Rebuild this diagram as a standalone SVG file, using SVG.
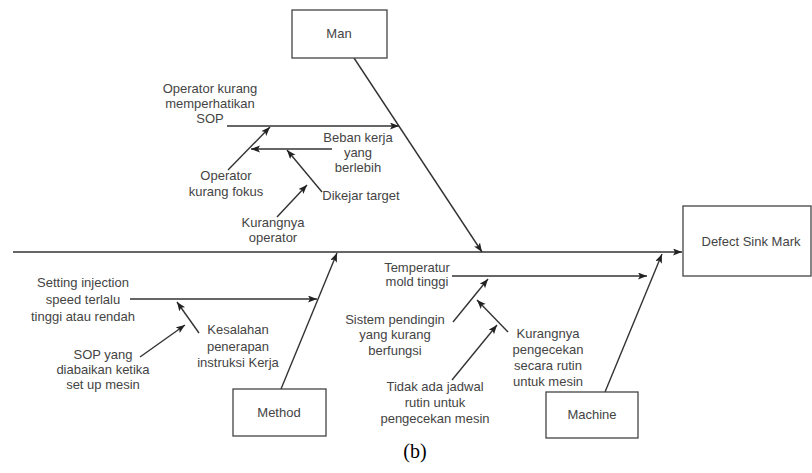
<svg xmlns="http://www.w3.org/2000/svg" width="812" height="473" viewBox="0 0 812 473">
<defs>
<marker id="arr" markerUnits="userSpaceOnUse" markerWidth="10" markerHeight="8" refX="9" refY="3.5" orient="auto">
<path d="M0,0 L9,3.5 L0,7 L2,3.5 z" fill="#222"/>
</marker>
<style>
.box{fill:#fff;stroke:#444;stroke-width:1.3}
.ln{fill:none;stroke:#333;stroke-width:1.4;marker-end:url(#arr)}
.t{font-family:"Liberation Sans",Arial,sans-serif;font-size:13px;fill:#444;text-anchor:middle}
.cap{font-family:"Liberation Serif","Times New Roman",serif;font-size:20px;fill:#000;text-anchor:middle}
</style>
</defs>
<rect width="812" height="473" fill="#fff"/>
<g id="connectors">
<line class="ln" x1="13" y1="252" x2="682" y2="252"/>
<line class="ln" x1="354" y1="58" x2="482" y2="252"/>
<line class="ln" x1="227" y1="126" x2="399" y2="126"/>
<line class="ln" x1="228" y1="170" x2="270" y2="127"/>
<line class="ln" x1="332" y1="149" x2="251" y2="149"/>
<line class="ln" x1="322" y1="192" x2="287" y2="150"/>
<line class="ln" x1="277" y1="217" x2="307" y2="185"/>
<line class="ln" x1="281" y1="389" x2="337" y2="253"/>
<line class="ln" x1="130" y1="299" x2="317" y2="299"/>
<line class="ln" x1="199" y1="333" x2="177" y2="302"/>
<line class="ln" x1="140" y1="357" x2="185" y2="325"/>
<line class="ln" x1="605" y1="392" x2="662" y2="254"/>
<line class="ln" x1="452" y1="276" x2="647" y2="276"/>
<line class="ln" x1="453" y1="322" x2="488" y2="279"/>
<line class="ln" x1="508" y1="332" x2="477" y2="300"/>
<line class="ln" x1="452" y1="380" x2="497" y2="325"/>
</g>
<g id="effect">
<rect class="box" x="683" y="206" width="128" height="70"/>
<text class="t" x="751" y="246">Defect Sink Mark</text>
</g>
<g id="man">
<rect class="box" x="292" y="10" width="95" height="48"/>
<text class="t" x="339" y="38">Man</text>
</g>
<g id="method">
<rect class="box" x="233" y="389" width="93" height="47"/>
<text class="t" x="279" y="417">Method</text>
</g>
<g id="machine">
<rect class="box" x="546" y="392" width="92" height="46"/>
<text class="t" x="592" y="419">Machine</text>
</g>
<g id="cause-sop">
<text class="t" x="210"><tspan x="210" y="93">Operator kurang</tspan><tspan x="210" y="108">memperhatikan</tspan><tspan x="210" y="123">SOP</tspan></text>
</g>
<g id="cause-beban">
<text class="t"><tspan x="358" y="142">Beban kerja</tspan><tspan x="358" y="157">yang</tspan><tspan x="358" y="172">berlebih</tspan></text>
</g>
<g id="cause-fokus">
<text class="t"><tspan x="226" y="180">Operator</tspan><tspan x="226" y="196">kurang fokus</tspan></text>
</g>
<g id="cause-dikejar">
<text class="t" x="361" y="200">Dikejar target</text>
</g>
<g id="cause-kurang-operator">
<text class="t"><tspan x="273" y="227">Kurangnya</tspan><tspan x="273" y="242">operator</tspan></text>
</g>
<g id="cause-setting">
<text class="t"><tspan x="83" y="287">Setting injection</tspan><tspan x="83" y="304">speed terlalu</tspan><tspan x="83" y="321">tinggi atau rendah</tspan></text>
</g>
<g id="cause-kesalahan">
<text class="t"><tspan x="238" y="334">Kesalahan</tspan><tspan x="238" y="351">penerapan</tspan><tspan x="238" y="367">instruksi Kerja</tspan></text>
</g>
<g id="cause-sop-diabaikan">
<text class="t"><tspan x="103" y="359">SOP yang</tspan><tspan x="103" y="374">diabaikan ketika</tspan><tspan x="103" y="389">set up mesin</tspan></text>
</g>
<g id="cause-temperatur">
<text class="t"><tspan x="417" y="272">Temperatur</tspan><tspan x="417" y="286">mold tinggi</tspan></text>
</g>
<g id="cause-sistem">
<text class="t"><tspan x="395" y="324">Sistem pendingin</tspan><tspan x="395" y="339">yang kurang</tspan><tspan x="395" y="355">berfungsi</tspan></text>
</g>
<g id="cause-pengecekan">
<text class="t"><tspan x="548" y="338">Kurangnya</tspan><tspan x="548" y="354">pengecekan</tspan><tspan x="548" y="370">secara rutin</tspan><tspan x="548" y="386">untuk mesin</tspan></text>
</g>
<g id="cause-jadwal">
<text class="t"><tspan x="435" y="391">Tidak ada jadwal</tspan><tspan x="435" y="407">rutin untuk</tspan><tspan x="435" y="423">pengecekan mesin</tspan></text>
</g>
<text class="cap" x="415" y="458">(b)</text>
</svg>
